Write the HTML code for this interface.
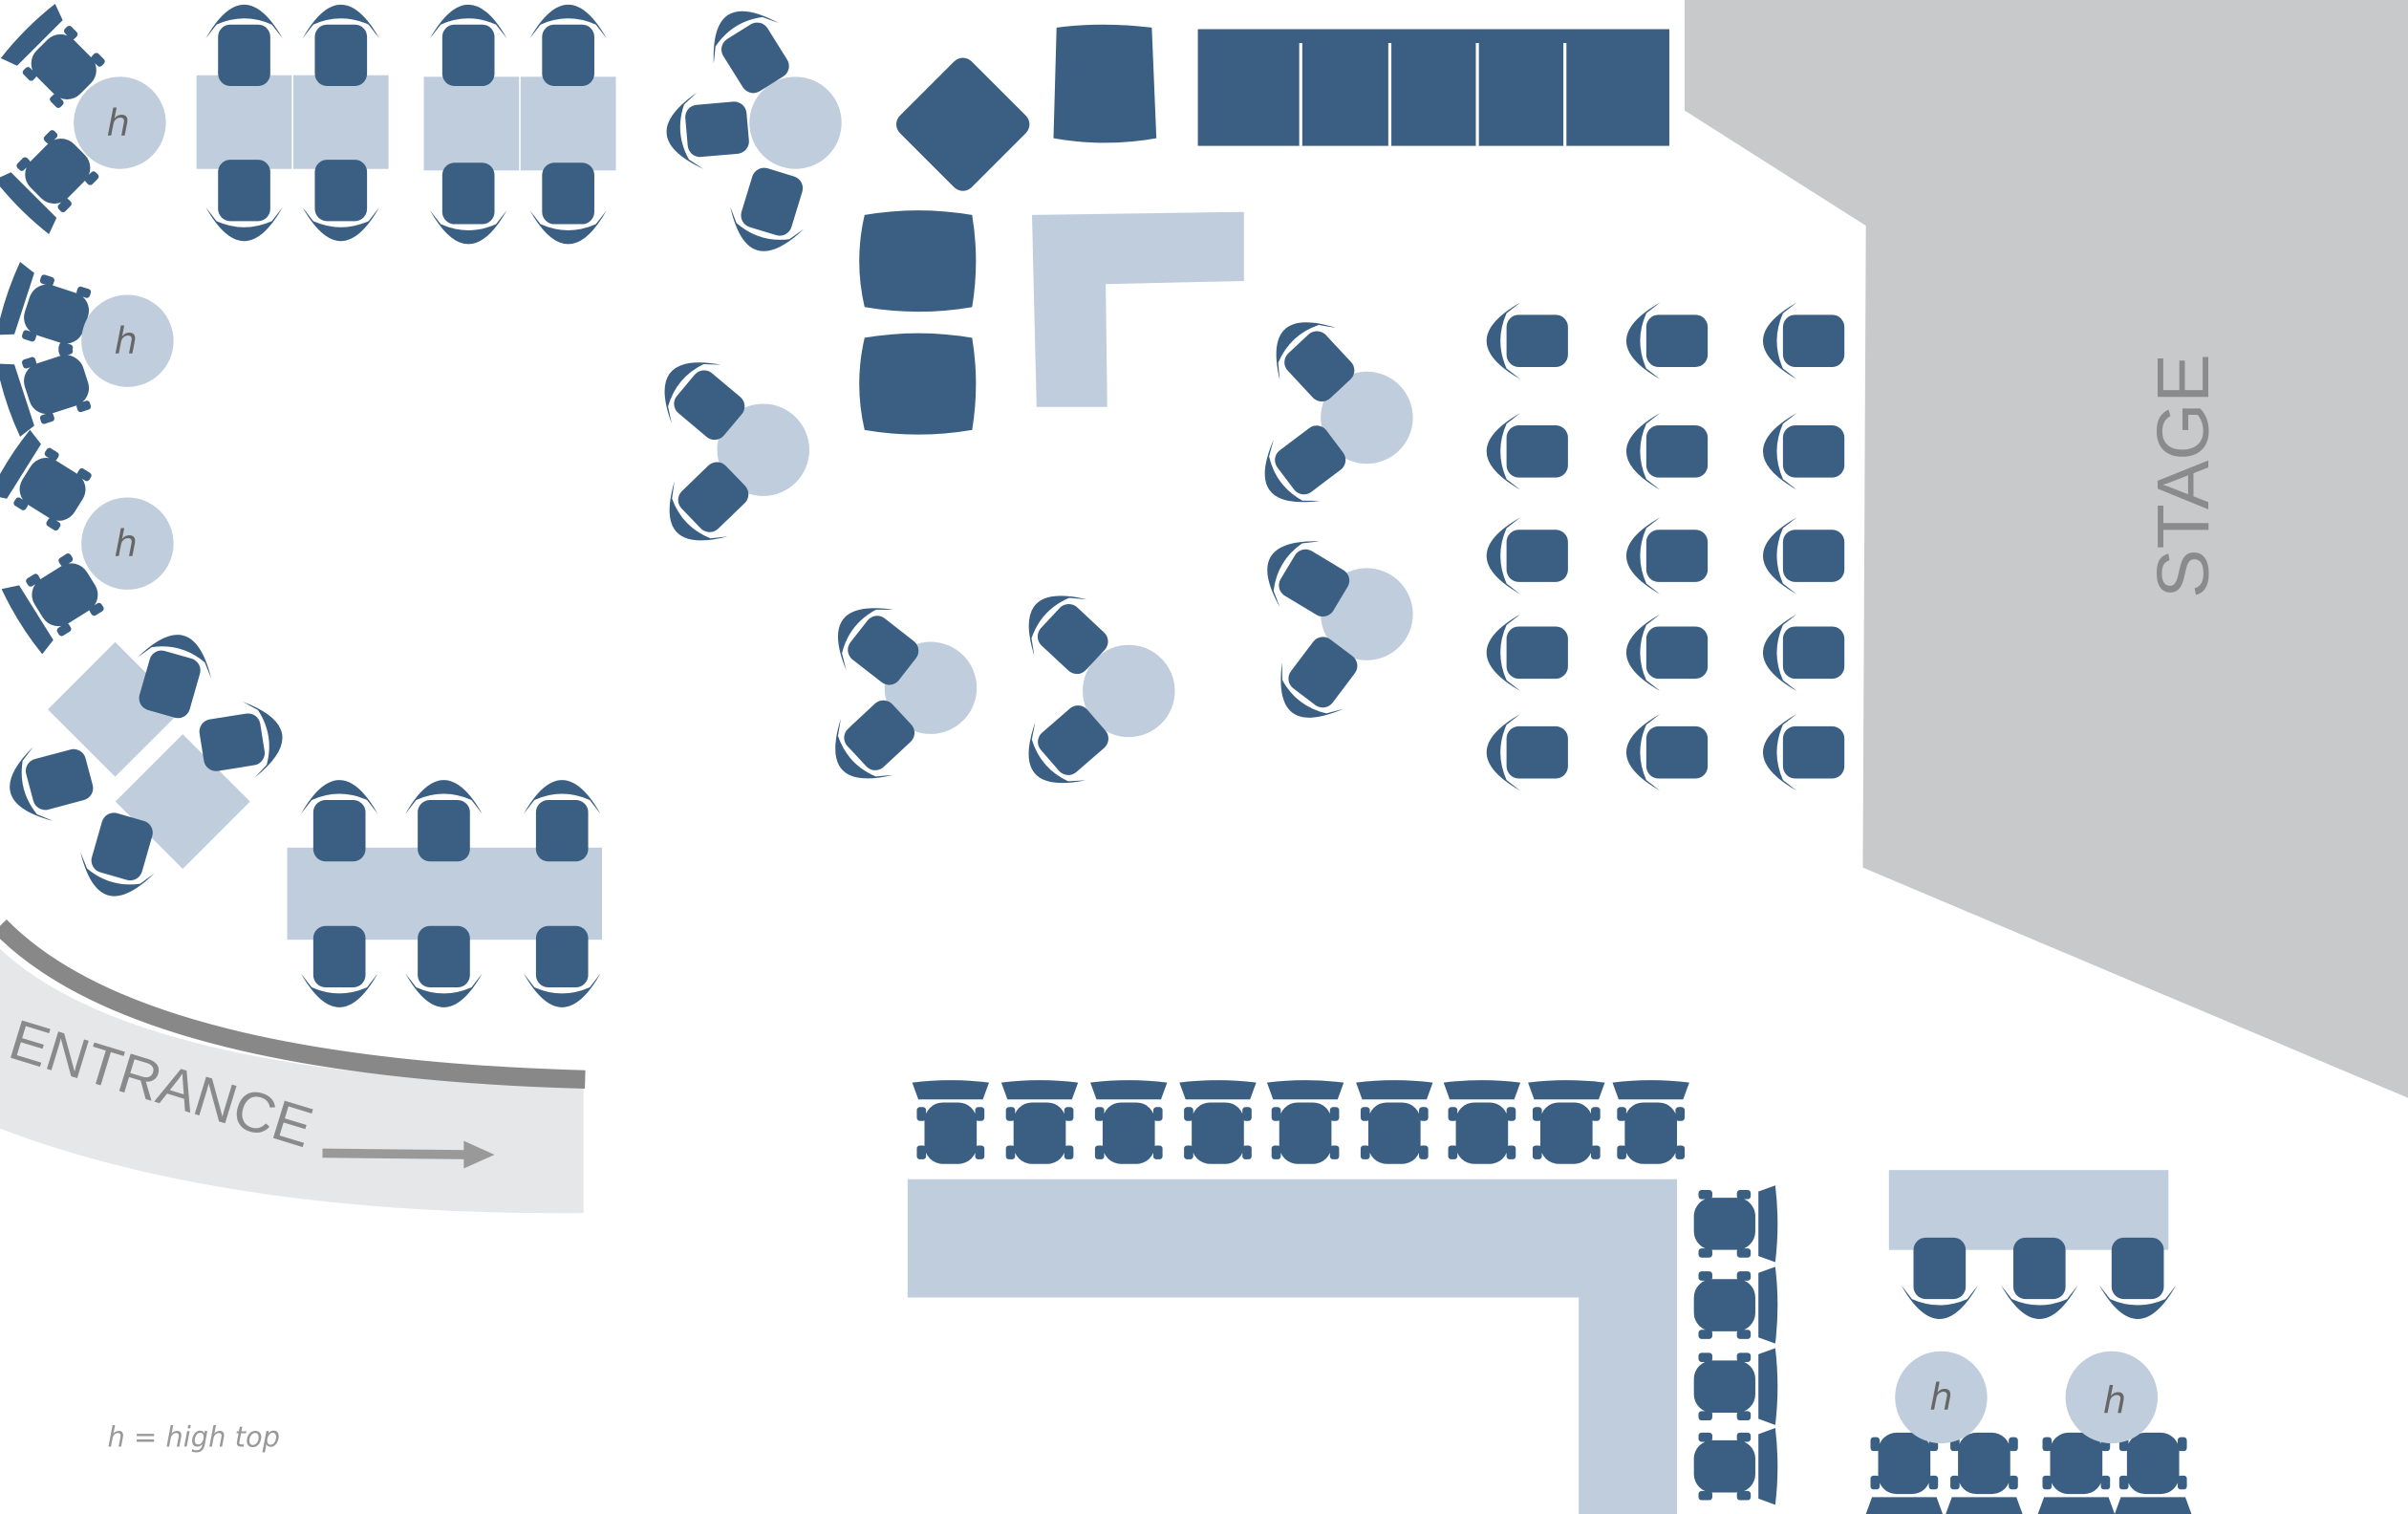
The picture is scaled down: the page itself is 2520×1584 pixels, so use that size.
<!DOCTYPE html>
<html><head><meta charset="utf-8"><style>html,body{margin:0;padding:0;background:#fff}svg{display:block}</style></head>
<body>
<svg width="2520" height="1584" viewBox="0 0 1568 986" preserveAspectRatio="none" xmlns="http://www.w3.org/2000/svg">
<defs>
<g id="ch" fill="#3a5f83">
<rect x="-17" y="-29" width="34" height="40" rx="8"/>
<path d="M-25,2 Q0,46 25,2 L18,11 Q0,19 -18,11 Z"/>
</g>
<g id="oc" fill="#3a5f83">
<path d="M-25,-28 Q0,-31 25,-28 L21,-17 L-21,-17 Z"/>
<rect x="-17" y="-15" width="34" height="40" rx="12"/>
<rect x="-22" y="-12" width="6" height="9" rx="2"/>
<rect x="16" y="-12" width="6" height="9" rx="2"/>
<rect x="-22" y="13" width="6" height="9" rx="2"/>
<rect x="16" y="13" width="6" height="9" rx="2"/>
</g>
</defs>
<polygon points="1097,0 1568,0 1568,715 1213,565 1215,147 1097,72" fill="#c8c9cb"/>
<text x="0" y="0" transform="translate(1438,310) rotate(-90)" text-anchor="middle" font-family="Liberation Sans, sans-serif" font-size="48" fill="#8a8b8d">STAGE</text>
<rect x="780" y="19" width="307" height="76" fill="#3a5f83"/>
<g stroke="#fff" stroke-width="2"><line x1="847" y1="28" x2="847" y2="95"/><line x1="905" y1="28" x2="905" y2="95"/><line x1="962" y1="28" x2="962" y2="95"/><line x1="1019" y1="28" x2="1019" y2="95"/></g>
<path d="M0,618 Q90,702 380,707 L380,790 Q150,792 0,735 Z" fill="#e6e7e9"/>
<path d="M0,603 Q90,695 381,703" fill="none" stroke="#888" stroke-width="12"/>
<text transform="translate(4,688) rotate(17)" font-family="Liberation Sans, sans-serif" font-size="37" fill="#8a8a8a">ENTRANCE</text>
<path d="M210,751 L305,752" stroke="#999" stroke-width="6"/>
<polygon points="302,743 322,752 302,761" fill="#999"/>
<g fill="#bfcddc">
<rect x="128" y="49" width="62" height="61"/><rect x="191" y="49" width="62" height="61"/>
<rect x="276" y="50" width="62" height="61"/><rect x="339" y="50" width="62" height="61"/>
<rect x="187" y="552" width="205" height="60"/>
<rect x="44" y="431" width="62" height="62" transform="rotate(45 75 462)"/>
<rect x="88" y="491" width="62" height="62" transform="rotate(45 119 522)"/>
<polygon points="672,140 810,138 810,183 720,185 721,265 675,265"/>
<polygon points="591,768 1092,768 1092,986 1028,986 1028,845 591,845"/>
<rect x="1230" y="762" width="182" height="52"/>
<circle cx="518" cy="80" r="30"/><circle cx="497" cy="293" r="30"/>
<circle cx="606" cy="448" r="30"/><circle cx="735" cy="450" r="30"/>
<circle cx="890" cy="272" r="30"/><circle cx="890" cy="400" r="30"/>
</g>
<g>
<use href="#ch" transform="translate(159,27) rotate(180)"/><use href="#ch" transform="translate(222,27) rotate(180)"/>
<use href="#ch" transform="translate(305,27) rotate(180)"/><use href="#ch" transform="translate(370,27) rotate(180)"/>
<use href="#ch" transform="translate(159,133)"/><use href="#ch" transform="translate(222,133)"/>
<use href="#ch" transform="translate(305,135)"/><use href="#ch" transform="translate(370,135)"/>
<use href="#ch" transform="translate(221,532) rotate(180)"/><use href="#ch" transform="translate(289,532) rotate(180)"/><use href="#ch" transform="translate(366,532) rotate(180)"/>
<use href="#ch" transform="translate(221,632)"/><use href="#ch" transform="translate(289,632)"/><use href="#ch" transform="translate(366,632)"/>
<use href="#ch" transform="translate(1263,835)"/><use href="#ch" transform="translate(1328,835)"/><use href="#ch" transform="translate(1392,835)"/>
<use href="#ch" transform="translate(113,437) rotate(-164)"/><use href="#ch" transform="translate(160,482) rotate(-99)"/>
<use href="#ch" transform="translate(30,510) rotate(75)"/><use href="#ch" transform="translate(77,560) rotate(16)"/>
<use href="#ch" transform="translate(487,30) rotate(148)"/><use href="#ch" transform="translate(458,85) rotate(85)"/><use href="#ch" transform="translate(500,140) rotate(17)"/>
<use href="#ch" transform="translate(455,258) rotate(130)"/><use href="#ch" transform="translate(458,330) rotate(46)"/>
<use href="#ch" transform="translate(568,418) rotate(128)"/><use href="#ch" transform="translate(566,485) rotate(47)"/>
<use href="#ch" transform="translate(692,410) rotate(133)"/><use href="#ch" transform="translate(692,488) rotate(49)"/>
<use href="#ch" transform="translate(853,232) rotate(137)"/><use href="#ch" transform="translate(846,305) rotate(53)"/>
<use href="#ch" transform="translate(848,375) rotate(121)"/><use href="#ch" transform="translate(856,445) rotate(37)"/>
<use href="#ch" transform="translate(992,222) rotate(90)"/><use href="#ch" transform="translate(1083,222) rotate(90)"/><use href="#ch" transform="translate(1172,222) rotate(90)"/>
<use href="#ch" transform="translate(992,294) rotate(90)"/><use href="#ch" transform="translate(1083,294) rotate(90)"/><use href="#ch" transform="translate(1172,294) rotate(90)"/>
<use href="#ch" transform="translate(992,362) rotate(90)"/><use href="#ch" transform="translate(1083,362) rotate(90)"/><use href="#ch" transform="translate(1172,362) rotate(90)"/>
<use href="#ch" transform="translate(992,425) rotate(90)"/><use href="#ch" transform="translate(1083,425) rotate(90)"/><use href="#ch" transform="translate(1172,425) rotate(90)"/>
<use href="#ch" transform="translate(992,490) rotate(90)"/><use href="#ch" transform="translate(1083,490) rotate(90)"/><use href="#ch" transform="translate(1172,490) rotate(90)"/>
</g>
<g fill="#3a5f83">
<path d="M563,140 Q598,134 633,140 Q638,170 633,200 Q598,206 563,200 Q556,170 563,140 Z"/>
<path d="M563,220 Q598,214 633,220 Q638,250 633,280 Q598,286 563,280 Q556,250 563,220 Z"/>
<rect x="594" y="48" width="66" height="66" rx="8" transform="rotate(45 627 81)"/>
<path d="M688,18 Q718,14 750,18 L753,90 Q720,96 686,90 Z"/>
</g>
<g>
<use href="#oc" transform="translate(619,733)"/><use href="#oc" transform="translate(677,733)"/><use href="#oc" transform="translate(735,733)"/>
<use href="#oc" transform="translate(793,733)"/><use href="#oc" transform="translate(850,733)"/><use href="#oc" transform="translate(908,733)"/>
<use href="#oc" transform="translate(965,733)"/><use href="#oc" transform="translate(1020,733)"/><use href="#oc" transform="translate(1075,733)"/>
<use href="#oc" transform="translate(1128,797) rotate(90)"/><use href="#oc" transform="translate(1128,850) rotate(90)"/>
<use href="#oc" transform="translate(1128,903) rotate(90)"/><use href="#oc" transform="translate(1128,955) rotate(90)"/>
<use href="#oc" transform="translate(38,40) rotate(-45)"/><use href="#oc" transform="translate(34,115) rotate(-135)"/>
<use href="#oc" transform="translate(32,203) rotate(-72)"/><use href="#oc" transform="translate(32,252) rotate(-108)"/>
<use href="#oc" transform="translate(30,316) rotate(-58)"/><use href="#oc" transform="translate(38,390) rotate(-122)"/>
<use href="#oc" transform="translate(1240,958) rotate(180)"/><use href="#oc" transform="translate(1292,958) rotate(180)"/>
<use href="#oc" transform="translate(1352,958) rotate(180)"/><use href="#oc" transform="translate(1402,958) rotate(180)"/>
</g>
<g fill="#bfcddc">
<circle cx="78" cy="80" r="30"/><circle cx="83" cy="222" r="30"/><circle cx="83" cy="354" r="30"/>
<circle cx="1264" cy="910" r="30"/><circle cx="1375" cy="910" r="30"/>
</g>
<g font-family="DejaVu Sans, sans-serif" font-style="italic" font-size="24" fill="#666" text-anchor="middle">
<text x="77" y="88">h</text><text x="82" y="230">h</text><text x="82" y="362">h</text>
<text x="1264" y="918">h</text><text x="1377" y="920">h</text>
</g>
<text x="70" y="942" font-family="DejaVu Sans, sans-serif" font-style="italic" font-size="18" fill="#999">h = high top</text>
</svg>
</body></html>
